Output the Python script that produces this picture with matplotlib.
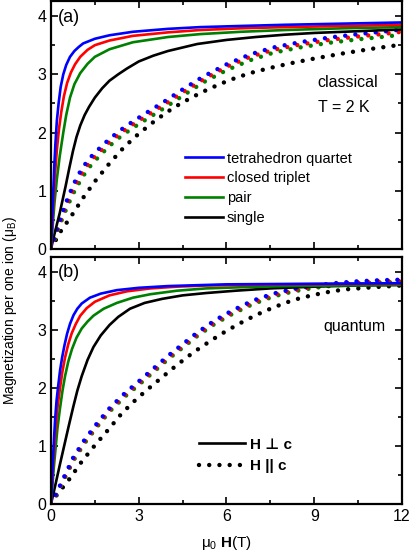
import numpy as np
import matplotlib.pyplot as plt
from matplotlib.ticker import MultipleLocator

plt.rcParams['font.family'] = ['Liberation Sans', 'DejaVu Sans']
plt.rcParams['mathtext.fontset'] = 'custom'
plt.rcParams['mathtext.rm'] = 'Liberation Sans'
plt.rcParams['mathtext.it'] = 'Liberation Sans:italic'
plt.rcParams['mathtext.bf'] = 'Liberation Sans:bold'

# data
##############################################################
labels = ["tetrahedron quartet", "closed triplet", "pair", "single"]
colors = ["#0000ff", "#ff0000", "#008000", "#000000"]

# (a) classical, H perp c (solid)
a_perp_H = [
    [0, 0.03, 0.07, 0.11, 0.15, 0.2, 0.26, 0.33, 0.42, 0.52, 0.65, 0.8, 0.95, 1.1, 1.3, 1.5, 2.0, 2.8, 4.0, 5.1, 6.5, 8.0, 10.0, 12.0],
    [0, 0.04, 0.09, 0.14, 0.2, 0.27, 0.35, 0.44, 0.55, 0.68, 0.82, 1.0, 1.25, 1.5, 2.0, 2.8, 4.0, 5.1, 6.5, 8.0, 10.0, 12.0],
    [0, 0.05, 0.12, 0.2, 0.3, 0.42, 0.52, 0.65, 0.8, 1.0, 1.25, 1.5, 2.0, 2.8, 4.0, 5.1, 6.5, 8.0, 10.0, 12.0],
    [0, 0.1, 0.2, 0.3, 0.4, 0.5, 0.63, 0.75, 0.87, 1.0, 1.15, 1.3, 1.5, 1.75, 2.0, 2.3, 2.6, 3.0, 3.5, 4.0, 5.0, 6.0, 7.0, 8.0, 9.0, 10.0, 11.0, 12.0],
]
a_perp_M = [
    [0, 0.4, 0.9, 1.4, 1.8, 2.2, 2.5, 2.78, 3.0, 3.16, 3.3, 3.4, 3.47, 3.53, 3.57, 3.61, 3.67, 3.73, 3.78, 3.81, 3.83, 3.85, 3.87, 3.89],
    [0, 0.4, 0.9, 1.3, 1.7, 2.05, 2.35, 2.62, 2.85, 3.03, 3.17, 3.3, 3.42, 3.5, 3.58, 3.66, 3.72, 3.76, 3.79, 3.81, 3.83, 3.85],
    [0, 0.35, 0.8, 1.2, 1.6, 2.0, 2.3, 2.6, 2.83, 3.02, 3.18, 3.3, 3.43, 3.55, 3.64, 3.69, 3.73, 3.76, 3.79, 3.81],
    [0, 0.22, 0.42, 0.62, 0.85, 1.08, 1.4, 1.68, 1.92, 2.12, 2.3, 2.44, 2.6, 2.76, 2.89, 3.0, 3.1, 3.22, 3.32, 3.4, 3.52, 3.59, 3.64, 3.68, 3.71, 3.73, 3.75, 3.77],
]

# (a) classical, H || c (dotted)
a_par_H = [
    [0, 0.1, 0.2, 0.3, 0.45, 0.6, 0.8, 1.0, 1.2, 1.4, 1.7, 2.0, 2.4, 2.8, 3.3, 3.9, 4.5, 5.2, 6.0, 6.8, 7.6, 8.5, 9.5, 10.5, 11.3, 12.0],
    [0, 0.1, 0.2, 0.3, 0.45, 0.6, 0.8, 1.0, 1.2, 1.4, 1.7, 2.0, 2.4, 2.8, 3.3, 3.9, 4.5, 5.2, 6.0, 6.8, 7.6, 8.5, 9.5, 10.5, 11.3, 12.0],
    [0, 0.1, 0.2, 0.3, 0.45, 0.6, 0.8, 1.0, 1.2, 1.4, 1.7, 2.0, 2.4, 2.8, 3.3, 3.9, 4.5, 5.2, 6.0, 6.8, 7.6, 8.5, 9.5, 10.5, 11.3, 12.0],
    [0, 0.3, 0.7, 1.1, 1.5, 2.0, 2.5, 3.0, 3.6, 4.2, 4.8, 5.4, 6.1, 6.8, 7.5, 8.2, 9.0, 10.0, 11.0, 12.0],
]
a_par_M = [
    [0, 0.17, 0.33, 0.49, 0.71, 0.91, 1.14, 1.33, 1.48, 1.6, 1.75, 1.89, 2.05, 2.19, 2.35, 2.54, 2.74, 2.96, 3.17, 3.34, 3.46, 3.55, 3.63, 3.69, 3.73, 3.77],
    [0, 0.15, 0.3, 0.45, 0.66, 0.85, 1.07, 1.26, 1.41, 1.54, 1.69, 1.84, 2.0, 2.14, 2.3, 2.49, 2.69, 2.91, 3.13, 3.3, 3.42, 3.51, 3.59, 3.65, 3.69, 3.73],
    [0, 0.13, 0.27, 0.41, 0.6, 0.78, 0.99, 1.17, 1.33, 1.46, 1.62, 1.77, 1.94, 2.08, 2.24, 2.43, 2.63, 2.86, 3.07, 3.24, 3.37, 3.46, 3.54, 3.6, 3.64, 3.68],
    [0, 0.28, 0.57, 0.88, 1.16, 1.47, 1.75, 1.98, 2.22, 2.43, 2.6, 2.75, 2.9, 3.02, 3.11, 3.19, 3.27, 3.36, 3.44, 3.51],
]

# (b) quantum, H perp c (solid)
b_perp_H = [
    [0, 0.03, 0.06, 0.1, 0.14, 0.19, 0.25, 0.31, 0.38, 0.46, 0.55, 0.65, 0.77, 0.9, 1.05, 1.33, 1.7, 2.25, 3.0, 4.0, 6.0, 9.0, 12.0],
    [0, 0.04, 0.08, 0.12, 0.17, 0.23, 0.31, 0.39, 0.48, 0.59, 0.71, 0.85, 1.0, 1.22, 1.5, 2.0, 2.6, 3.4, 4.3, 5.3, 8.0, 12.0],
    [0, 0.05, 0.1, 0.16, 0.22, 0.3, 0.39, 0.48, 0.59, 0.72, 0.87, 1.05, 1.25, 1.45, 1.8, 2.25, 2.8, 3.4, 4.3, 5.3, 6.5, 8.0, 12.0],
    [0, 0.15, 0.3, 0.45, 0.6, 0.76, 0.9, 1.05, 1.25, 1.45, 1.7, 2.0, 2.3, 2.7, 3.2, 3.8, 4.5, 5.3, 6.3, 7.5, 9.0, 10.5, 12.0],
]
b_perp_M = [
    [0, 0.35, 0.7, 1.1, 1.45, 1.78, 2.05, 2.3, 2.52, 2.73, 2.93, 3.1, 3.25, 3.36, 3.45, 3.55, 3.62, 3.68, 3.72, 3.75, 3.78, 3.79, 3.8],
    [0, 0.38, 0.75, 1.05, 1.38, 1.7, 2.0, 2.28, 2.52, 2.75, 2.94, 3.1, 3.24, 3.37, 3.48, 3.59, 3.66, 3.71, 3.74, 3.76, 3.78, 3.79],
    [0, 0.33, 0.65, 0.98, 1.3, 1.62, 1.94, 2.2, 2.45, 2.67, 2.86, 3.02, 3.14, 3.24, 3.36, 3.46, 3.55, 3.61, 3.67, 3.71, 3.73, 3.75, 3.77],
    [0, 0.33, 0.67, 1.0, 1.33, 1.67, 1.95, 2.2, 2.48, 2.7, 2.9, 3.08, 3.22, 3.36, 3.46, 3.53, 3.59, 3.63, 3.67, 3.71, 3.74, 3.76, 3.77],
]

# (b) quantum, H || c (dotted)
b_par_H = [
    [0, 0.3, 0.76, 1.14, 1.56, 2.02, 2.53, 3.0, 3.5, 4.0, 4.5, 5.0, 5.6, 6.2, 6.9, 7.6, 8.3, 9.0, 9.7, 10.4, 11.2, 12.0],
    [0, 0.3, 0.76, 1.14, 1.56, 2.02, 2.53, 3.0, 3.5, 4.0, 4.5, 5.0, 5.6, 6.2, 6.9, 7.6, 8.3, 9.0, 9.7, 10.4, 11.2, 12.0],
    [0, 0.3, 0.76, 1.14, 1.56, 2.02, 2.53, 3.0, 3.5, 4.0, 4.5, 5.0, 5.6, 6.2, 6.9, 7.6, 8.3, 9.0, 9.7, 10.4, 11.2, 12.0],
    [0, 0.19, 0.63, 1.05, 1.5, 1.96, 2.42, 2.93, 3.46, 4.3, 4.87, 5.49, 6.0, 6.5, 7.0, 7.5, 8.0, 8.5, 9.0, 9.5, 10.0, 11.0, 12.0],
]
b_par_M = [
    [0, 0.31, 0.8, 1.1, 1.38, 1.66, 1.91, 2.11, 2.33, 2.55, 2.75, 2.95, 3.16, 3.33, 3.5, 3.62, 3.7, 3.76, 3.8, 3.83, 3.85, 3.86],
    [0, 0.29, 0.77, 1.07, 1.35, 1.63, 1.88, 2.08, 2.3, 2.52, 2.72, 2.92, 3.13, 3.3, 3.47, 3.6, 3.68, 3.74, 3.78, 3.81, 3.83, 3.84],
    [0, 0.27, 0.74, 1.04, 1.32, 1.6, 1.85, 2.05, 2.27, 2.49, 2.69, 2.89, 3.1, 3.27, 3.44, 3.57, 3.66, 3.72, 3.76, 3.79, 3.81, 3.82],
    [0, 0.15, 0.43, 0.73, 1.01, 1.28, 1.56, 1.81, 2.04, 2.39, 2.61, 2.82, 2.98, 3.12, 3.25, 3.36, 3.46, 3.54, 3.6, 3.65, 3.69, 3.73, 3.76],
]
##############################################################

fig = plt.figure(figsize=(4.14, 5.55), dpi=100)
ax1 = fig.add_axes([0.1232, 0.5514, 0.8478, 0.4459])
ax2 = fig.add_axes([0.1232, 0.0919, 0.8478, 0.4450])

dot_style = dict(linestyle=(0, (0.001, 2.3)), linewidth=3.2, dash_capstyle='round')


def draw(ax, perp_H, perp_M, par_H, par_M):
    for i in [3, 2, 1, 0]:
        ax.plot(par_H[i], par_M[i], color=colors[i], **dot_style)
    for i in [3, 2, 1, 0]:
        ax.plot(perp_H[i], perp_M[i], color=colors[i], linewidth=1.9, label=labels[i])
    ax.set_xlim(0, 12)
    ax.set_ylim(0, 4.25)
    ax.xaxis.set_major_locator(MultipleLocator(3))
    ax.xaxis.set_minor_locator(MultipleLocator(1.5))
    ax.yaxis.set_major_locator(MultipleLocator(1))
    ax.yaxis.set_minor_locator(MultipleLocator(0.5))
    ax.tick_params(which='both', direction='in', top=True, right=True, width=1.2, labelsize=11.5)
    ax.tick_params(which='major', length=5)
    ax.tick_params(which='minor', length=3)
    for s in ax.spines.values():
        s.set_linewidth(1.6)


draw(ax1, a_perp_H, a_perp_M, a_par_H, a_par_M)
draw(ax2, b_perp_H, b_perp_M, b_par_H, b_par_M)
ax1.tick_params(labelbottom=False)

# legend of panel (a)
h, l = ax1.get_legend_handles_labels()
ax1.legend(h[::-1], l[::-1], loc='upper left', bbox_to_anchor=(0.36, 0.423), frameon=False,
           fontsize=10.5, handlelength=2.6, handletextpad=0.3, labelspacing=0.4, borderpad=0)

ax1.text(0.02, 0.97, "(a)", transform=ax1.transAxes, fontsize=13, va='top', ha='left')
ax1.text(0.76, 0.671, "classical", transform=ax1.transAxes, fontsize=11.5, va='center', ha='left')
ax1.text(0.76, 0.570, "T = 2 K", transform=ax1.transAxes, fontsize=11.5, va='center', ha='left')

ax2.text(0.02, 0.97, "(b)", transform=ax2.transAxes, fontsize=13, va='top', ha='left')
ax2.text(0.775, 0.72, "quantum", transform=ax2.transAxes, fontsize=11.5, va='center', ha='left')

# legend of panel (b)
l1, = ax2.plot([], [], color='k', linewidth=1.9)
l2, = ax2.plot([], [], color='k', **dot_style)
ax2.legend([l1, l2], ["H \u22a5 c", "H || c"], loc='upper left', bbox_to_anchor=(0.4, 0.3), frameon=False,
           prop={'weight': 'bold', 'size': 11}, handlelength=3.0, handletextpad=0.35, labelspacing=0.5,
           borderpad=0)

ax2.set_xlabel(r"μ$_0$ $\mathbf{H}$(T)", fontsize=11, labelpad=7)
fig.text(0.025, 0.44, r"Magnetization per one ion (μ$_\mathrm{B}$)", rotation=90, fontsize=10,
         ha='center', va='center')

fig.savefig("out.png", dpi=100)
